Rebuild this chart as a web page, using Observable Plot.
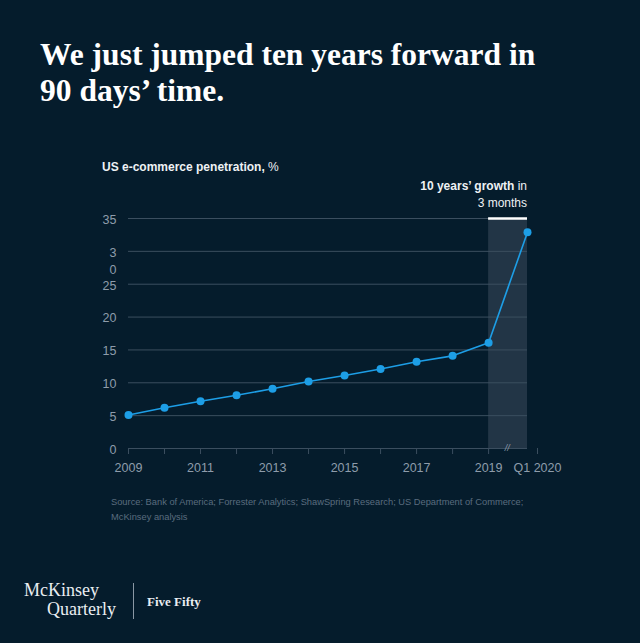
<!DOCTYPE html>
<html>
<head>
<meta charset="utf-8">
<script src="https://cdn.jsdelivr.net/npm/d3@7"></script>
<script src="https://cdn.jsdelivr.net/npm/@observablehq/plot@0.6"></script>
<style>
  html, body { margin: 0; padding: 0; }
  body { width: 640px; height: 643px; background: #051c2c; position: relative; overflow: hidden; font-family: "Liberation Sans", Arial, sans-serif; }
  .abs { position: absolute; }
  #title { left: 40px; top: 37px; font-family: "Liberation Serif", serif; font-weight: bold; font-size: 31.5px; line-height: 36px; color: #ffffff; }
  #sub { left: 102px; top: 160px; font-size: 12px; color: #eef1f4; }
  #ann { right: 113px; top: 178px; font-size: 12px; line-height: 17px; color: #eef1f4; text-align: right; }
  #chart { left: 0; top: 200px; }
  #source { left: 111px; top: 495px; font-size: 9.3px; line-height: 15px; color: #5a6c7f; width: 440px; }
  #brand1 { left: 24px; top: 581px; font-family: "Liberation Serif", serif; font-size: 18px; line-height: 18.5px; color: #e9edf1; }
  #brand1 .q { padding-left: 23px; }
  #vline { left: 133px; top: 583px; width: 1px; height: 36px; background: #8a97a4; }
  #brand2 { left: 147px; top: 594px; font-family: "Liberation Serif", serif; font-weight: bold; font-size: 13px; color: #e9edf1; }
</style>
</head>
<body>
<div id="title" class="abs">We just jumped ten years forward in<br>90 days’ time.</div>
<div id="sub" class="abs"><b>US e-commerce penetration,</b> %</div>
<div id="ann" class="abs"><b>10 years’ growth</b> in<br>3 months</div>
<div id="chart" class="abs"></div>
<div id="source" class="abs">Source: Bank of America; Forrester Analytics; ShawSpring Research; US Department of Commerce; McKinsey analysis</div>
<div id="brand1" class="abs">McKinsey<br><span class="q">Quarterly</span></div>
<div id="vline" class="abs"></div>
<div id="brand2" class="abs">Five Fifty</div>
<script>
// Data
const periods = ["2009","2010","2011","2012","2013","2014","2015","2016","2017","2018","2019","Q1 2020"];
const periodX = [2009,2010,2011,2012,2013,2014,2015,2016,2017,2018,2019,2020.08];
const penetration = [5.1,6.2,7.2,8.1,9.1,10.2,11.1,12.1,13.2,14.1,16.1,32.9];
const xTickLabels = ["2009","","2011","","2013","","2015","","2017","","2019","Q1 2020"];
const yTicks = [0,5,10,15,20,25,30,35];
const yTickLabels = ["0","5","10","15","20","25","3\n0","35"];
const bandStart = 2019, bandEnd = 2020.08, bandTop = 35;
const breakX = [2019.52];

const data = periods.map((p, i) => ({period: p, x: periodX[i], value: penetration[i]}));
const yearX = periodX.slice(0, -1);
const lastX = periodX.slice(-1);

const blue = "#1d9ee6";
const grid = "#3b4e5f";
const tickColor = "#8e9cab";
const fmtX = (d) => xTickLabels[periodX.indexOf(d)];

const chart = Plot.plot({
  width: 640,
  height: 280,
  marginTop: 18,
  marginBottom: 32,
  marginLeft: 128,
  marginRight: 113,
  style: { background: "transparent", fontFamily: "Liberation Sans, Arial, sans-serif", fontSize: "12px", color: tickColor },
  x: { domain: [2009, bandEnd] },
  y: { domain: [0, 35] },
  marks: [
    Plot.rect([{}], { x1: bandStart, x2: bandEnd, y1: 0, y2: bandTop, fill: "#223546" }),
    Plot.gridY(yTicks, { stroke: grid, strokeOpacity: 1, strokeWidth: 1 }),
    Plot.ruleY([bandTop], { x1: bandStart, x2: bandEnd, stroke: "#ffffff", strokeWidth: 2.5 }),
    Plot.axisY(yTicks, {
      tickSize: 0, tickPadding: 12,
      tickFormat: (d) => yTickLabels[yTicks.indexOf(d)],
      lineAnchor: "top", dy: -7, lineHeight: 1.4,
      label: null, fill: tickColor, fontSize: 12.5
    }),
    Plot.axisX(yearX, {
      tickSize: 6, tickPadding: 9, tickFormat: fmtX,
      stroke: grid, label: null, fill: tickColor, fontSize: 12.5
    }),
    Plot.axisX(lastX, {
      tickSize: 6, tickPadding: 9, tickFormat: fmtX,
      stroke: grid, label: null, fill: tickColor, fontSize: 12.5, dx: 10
    }),
    Plot.text(breakX, { x: (d) => d, y: 0, text: () => "//", fill: tickColor, fontSize: 9, fontStyle: "italic" }),
    Plot.line(data, { x: "x", y: "value", stroke: blue, strokeWidth: 1.6 }),
    Plot.dot(data, { x: "x", y: "value", r: 4, fill: blue, stroke: "none" })
  ]
});
document.getElementById("chart").appendChild(chart);
</script>
</body>
</html>
